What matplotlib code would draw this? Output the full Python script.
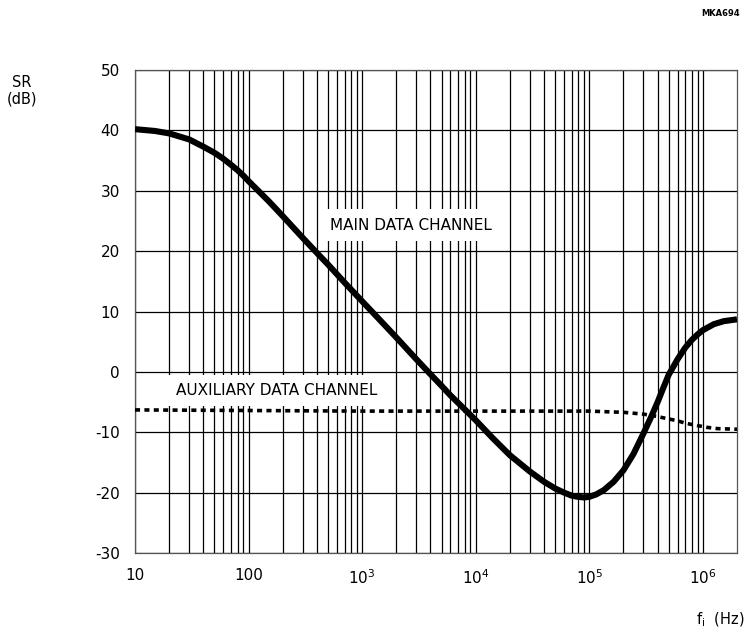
import matplotlib
matplotlib.use("Agg")
import matplotlib.pyplot as plt
from matplotlib.ticker import FixedLocator, NullFormatter

# ---- data ----
main_f = [10, 15, 20, 30, 40, 50, 60, 70, 80, 90, 100, 150, 200, 300, 400,
          500, 700, 1000, 1400, 2000, 3000, 4000, 5000, 6000, 8000, 1e4,
          1.4e4, 2e4, 3e4, 4e4, 5e4, 6e4, 7e4, 8e4, 9e4, 1e5, 1.15e5, 1.34e5,
          1.64e5, 2e5, 2.45e5, 3e5, 3.5e5, 4e5, 4.5e5, 5e5, 6e5, 7e5, 8e5,
          9e5, 1e6, 1.25e6, 1.53e6, 2e6]
main_sr = [40.2, 39.9, 39.5, 38.5, 37.3, 36.3, 35.3, 34.3, 33.4, 32.5, 31.6,
           28.3, 25.8, 22.2, 19.7, 17.8, 14.8, 11.7, 8.8, 5.7, 2.1, -0.4,
           -2.3, -3.9, -6.2, -8.0, -10.9, -13.8, -16.5, -18.2, -19.3, -20.0,
           -20.5, -20.7, -20.8, -20.7, -20.3, -19.6, -18.2, -16.3, -13.6,
           -10.2, -7.5, -5.0, -2.6, -0.5, 2.1, 4.0, 5.3, 6.2, 6.9, 7.9, 8.4,
           8.7]

aux_f = [10, 100, 1000, 1e4, 1e5, 2e5, 3e5, 4e5, 5e5, 6e5, 7e5, 9e5, 1.1e6,
         1.35e6, 2e6]
aux_sr = [-6.3, -6.4, -6.5, -6.5, -6.5, -6.7, -7.0, -7.4, -7.8, -8.1, -8.5,
          -8.9, -9.2, -9.4, -9.5]

x_ticks = [10, 100, 1e3, 1e4, 1e5, 1e6]
x_tick_labels = ["10", "100", r"$\mathregular{10^{3}}$", r"$\mathregular{10^{4}}$",
                 r"$\mathregular{10^{5}}$", r"$\mathregular{10^{6}}$"]
y_ticks = [-30, -20, -10, 0, 10, 20, 30, 40, 50]

fig = plt.figure(figsize=(7.48, 6.32), dpi=100)
ax = fig.add_axes([135 / 748, 1 - 553 / 632, (737 - 135) / 748, (553 - 70) / 632])

ax.set_xscale("log")
ax.set_xlim(10, 2e6)
ax.set_ylim(-30, 50)

# grid
minor = [m * 10 ** d for d in range(1, 7) for m in range(2, 10) if m * 10 ** d < 2e6]
ax.xaxis.set_major_locator(FixedLocator(x_ticks))
ax.xaxis.set_minor_locator(FixedLocator(minor))
ax.xaxis.set_minor_formatter(NullFormatter())
ax.set_xticks(x_ticks)
ax.set_xticklabels(x_tick_labels)
ax.set_yticks(y_ticks)
ax.set_yticklabels([str(v) if v >= 0 else "-" + str(-v) for v in y_ticks])
ax.grid(True, which="both", axis="x", color="black", lw=0.9)
ax.grid(True, which="major", axis="y", color="black", lw=0.9)
ax.set_axisbelow(True)
ax.tick_params(which="both", length=0, labelsize=11, pad=11)
for lbl in ax.get_xticklabels():
    lbl.set_horizontalalignment("center")
for s in ax.spines.values():
    s.set_color("#555555")
    s.set_linewidth(0.9)

# curves
ax.plot(main_f, main_sr, color="black", lw=4.4, solid_capstyle="butt",
        solid_joinstyle="round", zorder=4)
ax.plot(aux_f, aux_sr, color="black", lw=2.6, linestyle=(0, (1.4, 1.2)),
        dash_capstyle="butt", zorder=4)

# labels
box = dict(facecolor="white", edgecolor="none", pad=6)
ax.text(523, 24.3, "MAIN DATA CHANNEL", fontsize=11, va="center", ha="left",
        bbox=box, zorder=3)
ax.text(23, -3.1, "AUXILIARY DATA CHANNEL", fontsize=11, va="center", ha="left",
        bbox=box, zorder=3)

fig.text(22 / 748, 1 - 91 / 632, "SR\n(dB)", fontsize=10.5, ha="center", va="center",
         linespacing=1.1)
fig.text(745 / 748, 1 - 620 / 632, r"$\mathregular{f_{i}}$  (Hz)", fontsize=10.5,
         ha="right", va="center")
fig.text(740 / 748, 1 - 14 / 632, "MKA694", fontsize=6, ha="right", va="center",
         fontweight="bold")

fig.savefig("out.png", dpi=100)
